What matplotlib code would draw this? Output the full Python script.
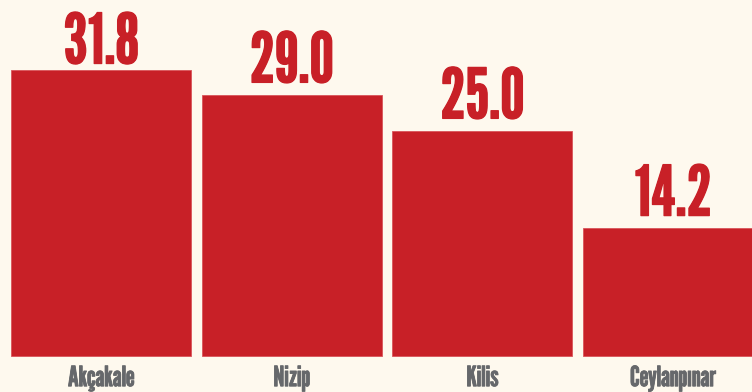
import matplotlib.pyplot as plt
from matplotlib import font_manager
import matplotlib.patheffects as pe

towns = ['Akçakale', 'Nizip', 'Kilis', 'Ceylanpınar']
values = [31.8, 29.0, 25.0, 14.2]

bg = '#fef9ee'
red = '#c82027'
grey = '#66686b'

# condensed gothic face, first one that is installed
names = {f.name for f in font_manager.fontManager.ttflist}
fam = 'DejaVu Sans'
for n in ['League Gothic', 'Oswald', 'Antonio', 'Pathway Gothic One', 'Fjalla One', 'Anton']:
    if n in names:
        fam = n
        break

fig = plt.figure(figsize=(7.52, 3.92), dpi=100, facecolor=bg)
ax = fig.add_axes([0, 0, 1, 1])
ax.set_facecolor(bg)

x = list(range(len(values)))
ax.bar(x, values, width=0.944, color=red, edgecolor='#d9555a', linewidth=0.6)

bold = [pe.withStroke(linewidth=0.9, foreground=red)]
bold_g = [pe.withStroke(linewidth=0.6, foreground=grey)]
for i, v in zip(x, values):
    yb = min(v + 1.4, 32.5)  # keep the tallest label inside the figure
    ax.text(i, yb, '%.1f' % v, ha='center', va='baseline', color=red,
            family=fam, fontsize=50, path_effects=bold)
    ax.text(i, -3.35, towns[i], ha='center', va='baseline', color=grey,
            family=fam, fontsize=20, path_effects=bold_g)

ax.set_xlim(-0.530, 3.414)
ax.set_ylim(-4, 39.56)
ax.axis('off')

fig.savefig('out.png', dpi=100, facecolor=bg)
